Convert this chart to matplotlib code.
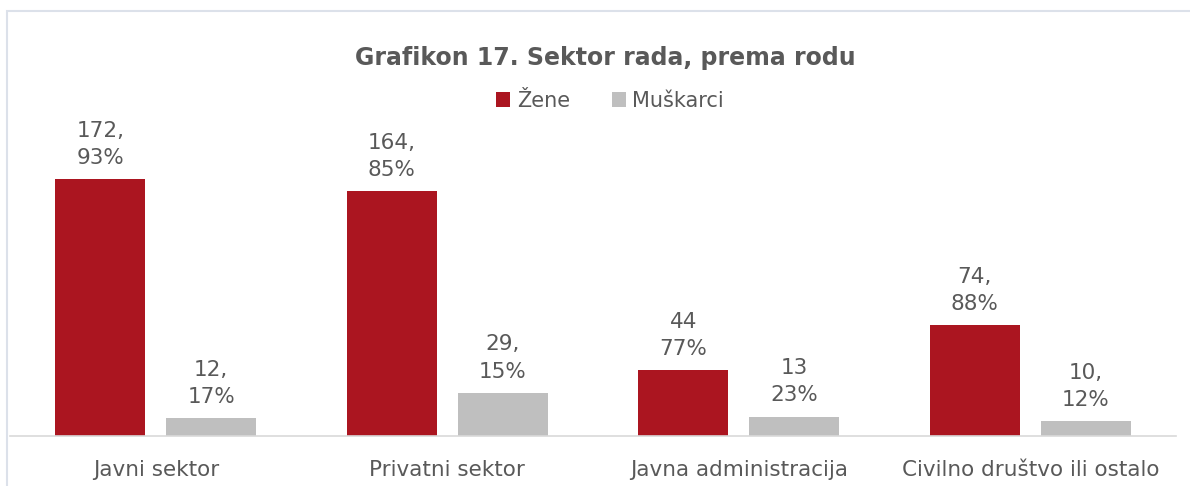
import matplotlib.pyplot as plt
import numpy as np
from matplotlib.patches import Rectangle

# podaci
sektori = ["Javni sektor", "Privatni sektor", "Javna administracija", "Civilno društvo ili ostalo"]
zene = [172, 164, 44, 74]
muskarci = [12, 29, 13, 10]
zene_pct = ["93%", "85%", "77%", "88%"]
muskarci_pct = ["17%", "15%", "23%", "12%"]
zene_sep = [",", ",", "", ","]
muskarci_sep = [",", ",", "", ","]

CRVENA = "#AB1520"
SIVA = "#BFBFBF"
TEKST = "#595959"
FONT = "DejaVu Sans"
VEL = 15.5

W, H = 1190, 486
fig = plt.figure(figsize=(W / 100, H / 100), dpi=100)

# okvir grafikona (odsječen desno i dolje)
fig.patches.append(Rectangle((7 / W, -0.1), 1.2, 1 - 11 / H + 0.1,
                             transform=fig.transFigure, fill=False,
                             edgecolor="#DCE1EA", linewidth=1.5))

ax_bottom = 436
ax_top = 100
ax = fig.add_axes([10 / W, 1 - ax_bottom / H, (1176 - 10) / W, (ax_bottom - ax_top) / H])
ax.set_facecolor("none")

x = np.arange(len(sektori))
sirina = 0.309
pomak = 0.19

ax.bar(x - pomak, zene, sirina, color=CRVENA, label="Žene")
ax.bar(x + pomak, muskarci, sirina, color=SIVA, label="Muškarci")

px_po_jed = 1.494
ax.set_ylim(0, (ax_bottom - ax_top) / px_po_jed)
ax.set_xlim(-0.5, len(sektori) - 0.5)

for i in range(len(sektori)):
    ax.annotate(f"{zene[i]}{zene_sep[i]}\n{zene_pct[i]}", (x[i] - pomak, zene[i]),
                xytext=(0, 8), textcoords="offset points", ha="center", va="bottom",
                fontsize=VEL, color=TEKST, family=FONT, linespacing=1.45)
    ax.annotate(f"{muskarci[i]}{muskarci_sep[i]}\n{muskarci_pct[i]}", (x[i] + pomak, muskarci[i]),
                xytext=(0, 8), textcoords="offset points", ha="center", va="bottom",
                fontsize=VEL, color=TEKST, family=FONT, linespacing=1.45)

ax.set_xticks(x)
ax.set_xticklabels(sektori, fontsize=VEL, color=TEKST, family=FONT)
ax.tick_params(axis="x", length=0, pad=17)
ax.set_yticks([])
for s in ["top", "right", "left"]:
    ax.spines[s].set_visible(False)
ax.spines["bottom"].set_color("#D9D9D9")
ax.spines["bottom"].set_linewidth(1.2)

fig.text(605 / W, 1 - 58 / H, "Grafikon 17. Sektor rada, prema rodu", ha="center", va="center",
         fontsize=17, fontweight="bold", color=TEKST, family=FONT)

leg = fig.legend(loc="center", bbox_to_anchor=(610 / W, 1 - 101 / H), ncol=2, frameon=False,
                 handlelength=0.7, handleheight=0.7, handletextpad=0.3,
                 columnspacing=2.0, prop={"family": FONT, "size": 15})
for t in leg.get_texts():
    t.set_color(TEKST)

fig.savefig("out.png", dpi=100)
